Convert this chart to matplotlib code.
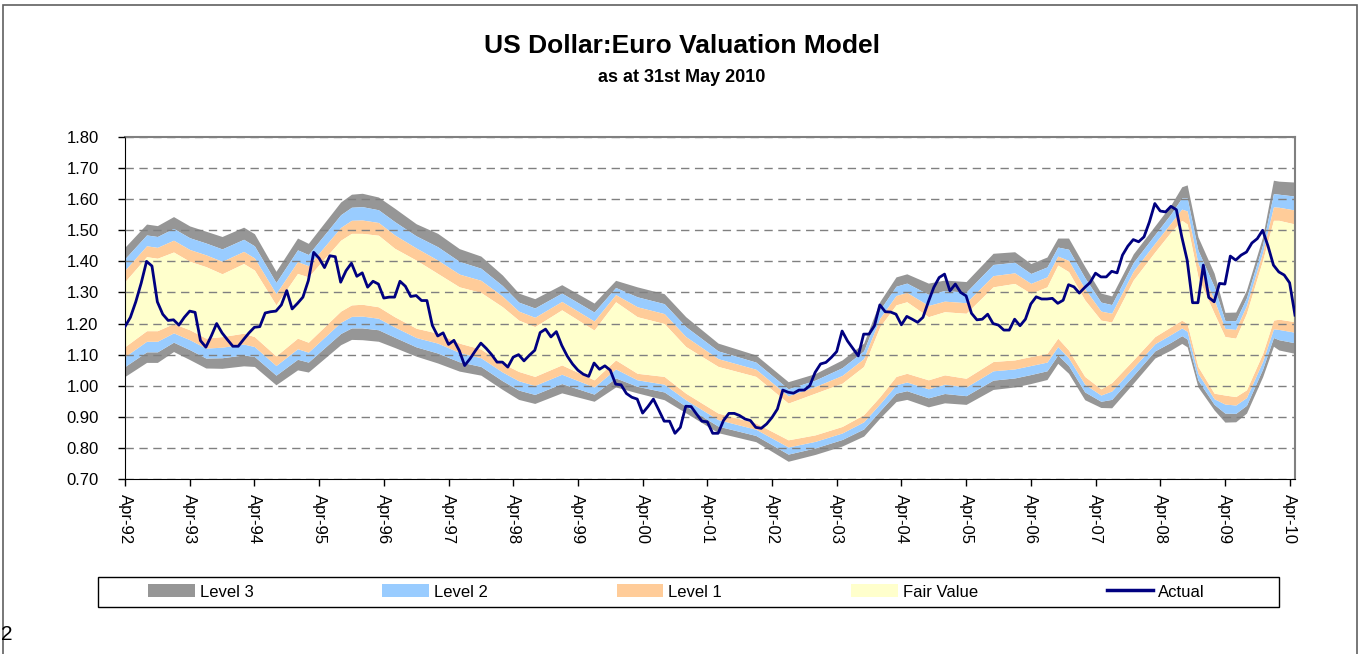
import numpy as np
import matplotlib
matplotlib.use("Agg")
import matplotlib.pyplot as plt
from matplotlib.patches import Patch, Rectangle
from matplotlib.lines import Line2D

plt.rcParams['font.family'] = ['Liberation Sans', 'DejaVu Sans']

# ---------------- data ----------------
# month index 0 = Apr-92 ... 217 = May-10
tick_labels = ["Apr-92", "Apr-93", "Apr-94", "Apr-95", "Apr-96", "Apr-97", "Apr-98",
               "Apr-99", "Apr-00", "Apr-01", "Apr-02", "Apr-03", "Apr-04", "Apr-05",
               "Apr-06", "Apr-07", "Apr-08", "Apr-09", "Apr-10"]

actual = [1.19, 1.22, 1.27, 1.33, 1.40, 1.385, 1.27, 1.23, 1.21, 1.212, 1.195, 1.22,
          1.24, 1.236, 1.145, 1.124, 1.16, 1.20, 1.17, 1.148, 1.127, 1.127, 1.149, 1.17,
          1.188, 1.19, 1.234, 1.238, 1.24, 1.26, 1.306, 1.247, 1.265, 1.285, 1.338, 1.429,
          1.41, 1.38, 1.418, 1.415, 1.333, 1.37, 1.394, 1.352, 1.363, 1.317, 1.336, 1.327,
          1.282, 1.285, 1.285, 1.336, 1.32, 1.287, 1.29, 1.274, 1.274, 1.194, 1.16, 1.17,
          1.133, 1.146, 1.113, 1.065, 1.087, 1.113, 1.137, 1.12, 1.10, 1.076, 1.076, 1.06,
          1.092, 1.10, 1.08, 1.098, 1.114, 1.171, 1.182, 1.157, 1.174, 1.13, 1.096, 1.07,
          1.05, 1.037, 1.03, 1.073, 1.053, 1.064, 1.05, 1.005, 1.003, 0.975, 0.963, 0.957,
          0.912, 0.933, 0.957, 0.922, 0.886, 0.886, 0.847, 0.866, 0.934, 0.933, 0.909, 0.886,
          0.884, 0.847, 0.847, 0.888, 0.911, 0.911, 0.904, 0.893, 0.888, 0.866, 0.863, 0.877,
          0.898, 0.925, 0.986, 0.979, 0.976, 0.986, 0.986, 1.00, 1.043, 1.07, 1.075, 1.091,
          1.11, 1.176, 1.144, 1.12, 1.096, 1.166, 1.166, 1.193, 1.26, 1.238, 1.237, 1.23,
          1.196, 1.223, 1.214, 1.204, 1.22, 1.27, 1.316, 1.348, 1.359, 1.305, 1.327, 1.30,
          1.289, 1.233, 1.212, 1.214, 1.23, 1.20, 1.195, 1.179, 1.179, 1.214, 1.193, 1.214,
          1.263, 1.286, 1.279, 1.279, 1.281, 1.265, 1.275, 1.325, 1.318, 1.298, 1.316, 1.332,
          1.362, 1.35, 1.35, 1.368, 1.363, 1.42, 1.449, 1.47, 1.463, 1.479, 1.527, 1.586,
          1.562, 1.559, 1.577, 1.566, 1.479, 1.404, 1.267, 1.267, 1.388, 1.284, 1.27, 1.329,
          1.327, 1.417, 1.404, 1.42, 1.43, 1.459, 1.473, 1.50, 1.449, 1.388, 1.366, 1.356,
          1.331, 1.227]

band_month = [0, 4, 6, 9, 12, 15, 18, 22, 24, 28, 32, 34, 40, 42, 44, 47, 50, 54, 58, 62,
              66, 70, 73, 76, 81, 87, 91, 95, 100, 104, 110, 117, 123, 128, 133, 137, 140,
              143, 145, 149, 152, 156, 161, 165, 168, 171, 173, 175, 178, 181, 183, 187,
              191, 194, 196, 197, 199, 202, 204, 206, 208, 211, 213, 214, 217]
fv_hi = [1.335, 1.415, 1.41, 1.43, 1.40, 1.383, 1.36, 1.393, 1.372, 1.26, 1.361, 1.35,
         1.468, 1.49, 1.49, 1.484, 1.442, 1.404, 1.361, 1.318, 1.30, 1.254, 1.211, 1.19,
         1.244, 1.179, 1.27, 1.222, 1.20, 1.126, 1.062, 1.03, 0.944, 0.976, 1.008, 1.062,
         1.19, 1.26, 1.27, 1.222, 1.238, 1.233, 1.318, 1.329, 1.297, 1.318, 1.388, 1.367,
         1.276, 1.211, 1.205, 1.34, 1.43, 1.495, 1.532, 1.52, 1.35, 1.233, 1.158, 1.153,
         1.233, 1.404, 1.532, 1.532, 1.52]
fv_lo = [1.126, 1.177, 1.177, 1.20, 1.18, 1.153, 1.158, 1.169, 1.158, 1.096, 1.153, 1.14,
         1.24, 1.26, 1.262, 1.254, 1.222, 1.185, 1.169, 1.137, 1.118, 1.072, 1.046, 1.03,
         1.067, 1.019, 1.083, 1.04, 1.03, 0.976, 0.912, 0.88, 0.826, 0.842, 0.869, 0.907,
         0.965, 1.03, 1.04, 1.019, 1.035, 1.024, 1.078, 1.083, 1.094, 1.104, 1.153, 1.115,
         1.03, 0.99, 1.01, 1.083, 1.158, 1.19, 1.211, 1.20, 1.062, 0.976, 0.97, 0.965,
         0.987, 1.104, 1.211, 1.214, 1.206]
# thickness of each level band above / below the fair-value band
lvl_hi = [0.037, 0.035, 0.035, 0.038, 0.038, 0.038, 0.040, 0.039, 0.039, 0.036, 0.038,
          0.036, 0.041, 0.042, 0.043, 0.041, 0.043, 0.039, 0.043, 0.041, 0.039, 0.034,
          0.029, 0.030, 0.027, 0.029, 0.023, 0.032, 0.032, 0.032, 0.025, 0.023, 0.023,
          0.021, 0.025, 0.025, 0.027, 0.030, 0.030, 0.036, 0.034, 0.034, 0.036, 0.034,
          0.032, 0.032, 0.029, 0.036, 0.036, 0.029, 0.028, 0.028, 0.028, 0.029, 0.036,
          0.042, 0.043, 0.043, 0.026, 0.028, 0.025, 0.025, 0.043, 0.042, 0.045]
lvl_lo = [0.032, 0.034, 0.034, 0.030, 0.032, 0.032, 0.034, 0.035, 0.032, 0.031, 0.034,
          0.032, 0.036, 0.037, 0.038, 0.037, 0.033, 0.030, 0.032, 0.030, 0.028, 0.028,
          0.030, 0.029, 0.030, 0.023, 0.029, 0.021, 0.025, 0.021, 0.021, 0.020, 0.023,
          0.021, 0.021, 0.023, 0.023, 0.027, 0.028, 0.029, 0.030, 0.028, 0.030, 0.029,
          0.029, 0.028, 0.027, 0.025, 0.025, 0.020, 0.027, 0.025, 0.023, 0.025, 0.025,
          0.025, 0.022, 0.018, 0.029, 0.027, 0.025, 0.025, 0.028, 0.033, 0.034]

# ---------------- styling ----------------
C_L3 = "#969696"
C_L2 = "#99CCFF"
C_L1 = "#FFCC99"
C_FV = "#FFFFCC"
C_ACT = "#000080"

W, H = 1363, 654
fig = plt.figure(figsize=(W / 100, H / 100), dpi=100)

# outer chart frame
fig.patches.append(Rectangle((3 / W, -0.05), (1357 - 3) / W, 1 - 5 / H + 0.05,
                             transform=fig.transFigure, fill=False,
                             edgecolor="#606060", linewidth=1.2))

ax = fig.add_axes([125 / W, 1 - 479 / H, (1295 - 125) / W, (479 - 137) / H])

x = np.array(band_month)
hi = np.array(fv_hi)
lo = np.array(fv_lo)
wh = np.array(lvl_hi)
wl = np.array(lvl_lo)

# bands (outer to inner)
ax.fill_between(x, hi + 2 * wh, hi + 3 * wh, color=C_L3, lw=0)
ax.fill_between(x, lo - 3 * wl, lo - 2 * wl, color=C_L3, lw=0)
ax.fill_between(x, hi + wh, hi + 2 * wh, color=C_L2, lw=0)
ax.fill_between(x, lo - 2 * wl, lo - wl, color=C_L2, lw=0)
ax.fill_between(x, hi, hi + wh, color=C_L1, lw=0)
ax.fill_between(x, lo - wl, lo, color=C_L1, lw=0)
ax.fill_between(x, lo, hi, color=C_FV, lw=0)

months = np.arange(len(actual))
ax.plot(months, actual, color=C_ACT, lw=2.0, zorder=5)

ax.set_xlim(0, len(actual) - 1)
ax.set_ylim(0.70, 1.80)
yt = np.arange(0.70, 1.801, 0.10)
ax.set_yticks(yt)
ax.set_yticklabels([f"{v:.2f}" for v in yt], fontsize=12)
ax.set_xticks(np.arange(0, 12 * len(tick_labels), 12))
ax.set_xticklabels(tick_labels, rotation=270, fontsize=12, va="top", ha="center")

ax.yaxis.grid(True, linestyle=(0, (6, 4)), color="#808080", linewidth=1.0)
ax.set_axisbelow(False)
for gl in ax.get_ygridlines():
    gl.set_zorder(0.5)
ax.tick_params(axis="both", direction="out", length=5, width=1, color="black")
ax.tick_params(axis="y", pad=14)
ax.tick_params(axis="x", pad=6)
ax.spines["left"].set_color("black")
ax.spines["bottom"].set_color("black")
ax.spines["top"].set_color("#808080")
ax.spines["right"].set_color("#808080")
ax.spines["top"].set_linewidth(1.5)
ax.spines["right"].set_linewidth(1.5)

# titles
fig.text(0.5, 1 - 46 / H, "US Dollar:Euro Valuation Model", ha="center", va="center",
         fontsize=19, fontweight="bold")
fig.text(0.5, 1 - 77 / H, "as at 31st May 2010", ha="center", va="center",
         fontsize=13, fontweight="bold")

# legend: frame drawn separately, entries spread across the inner region
fig.patches.append(Rectangle((98 / W, 1 - 607 / H), (1279 - 98) / W, 30 / H,
                             transform=fig.transFigure, fill=False,
                             edgecolor="black", linewidth=1.0))
handles = [Patch(facecolor=C_L3, edgecolor="none", label="Level 3"),
           Patch(facecolor=C_L2, edgecolor="none", label="Level 2"),
           Patch(facecolor=C_L1, edgecolor="none", label="Level 1"),
           Patch(facecolor=C_FV, edgecolor="none", label="Fair Value"),
           Line2D([], [], color=C_ACT, lw=2.5, label="Actual")]
leg = fig.legend(handles=handles, loc="center",
                 bbox_to_anchor=(148 / W, 1 - 607 / H, (1205 - 148) / W, 30 / H),
                 mode="expand", ncol=5, fontsize=12, frameon=False,
                 handlelength=2.8, handleheight=0.8,
                 borderaxespad=0, handletextpad=0.3, borderpad=0.0)

# page number at bottom-left edge
fig.text(1 / W, 1 - 634 / H, "2", ha="left", va="center", fontsize=15)

fig.savefig("out.png", dpi=100)
